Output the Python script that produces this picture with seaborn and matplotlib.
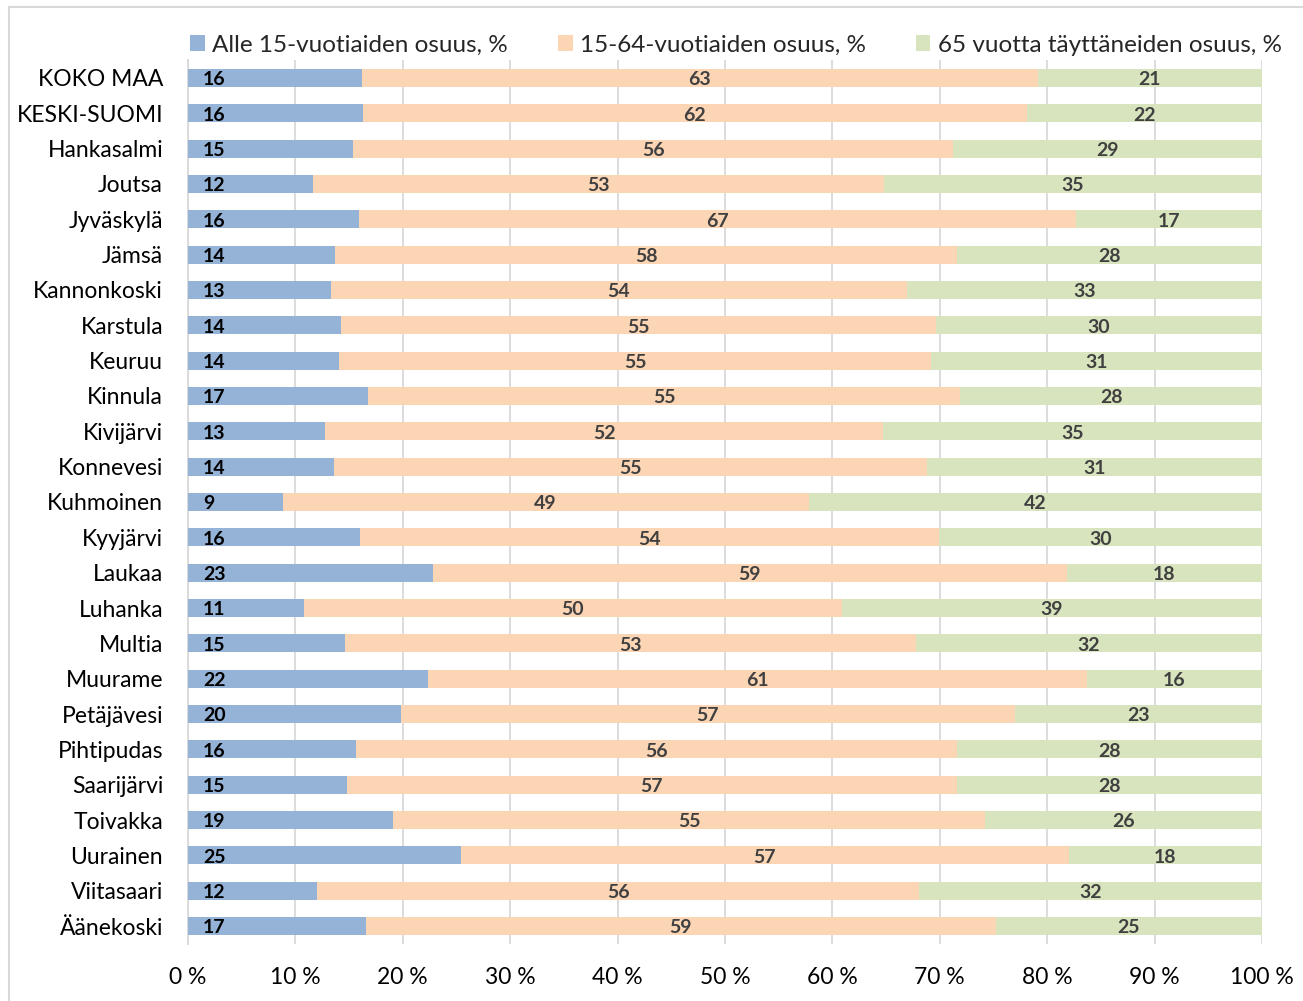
import matplotlib
matplotlib.use("Agg")
import matplotlib.pyplot as plt
from matplotlib.patches import Patch, Rectangle
import seaborn as sns
import pandas as pd
import numpy as np

regions = ["KOKO MAA", "KESKI-SUOMI", "Hankasalmi", "Joutsa", "Jyväskylä", "Jämsä",
           "Kannonkoski", "Karstula", "Keuruu", "Kinnula", "Kivijärvi", "Konnevesi",
           "Kuhmoinen", "Kyyjärvi", "Laukaa", "Luhanka", "Multia", "Muurame",
           "Petäjävesi", "Pihtipudas", "Saarijärvi", "Toivakka", "Uurainen",
           "Viitasaari", "Äänekoski"]
under15 = [16.2, 16.3, 15.4, 11.6, 15.9, 13.7, 13.3, 14.2, 14.1, 16.8, 12.8, 13.6,
           8.8, 16.0, 22.8, 10.8, 14.6, 22.3, 19.8, 15.6, 14.8, 19.1, 25.4, 12.0, 16.6]
age15_64 = [62.9, 61.8, 55.8, 53.2, 66.8, 57.9, 53.6, 55.4, 55.1, 55.1, 51.9, 55.2,
            49.0, 53.9, 59.0, 50.1, 53.2, 61.4, 57.2, 56.0, 56.8, 55.1, 56.6, 56.1, 58.6]
over65 = [20.9, 21.9, 28.8, 35.2, 17.3, 28.4, 33.1, 30.4, 30.8, 28.1, 35.3, 31.2,
          42.2, 30.1, 18.2, 39.1, 32.2, 16.3, 23.0, 28.4, 28.4, 25.8, 18.0, 31.9, 24.8]
series_names = ["Alle 15-vuotiaiden osuus, %", "15-64-vuotiaiden osuus, %",
                "65 vuotta täyttäneiden osuus, %"]
xticks = [0, 10, 20, 30, 40, 50, 60, 70, 80, 90, 100]
xticklabels = ["0 %", "10 %", "20 %", "30 %", "40 %", "50 %", "60 %", "70 %",
               "80 %", "90 %", "100 %"]

colors = ["#95B3D7", "#FCD5B5", "#D7E4BD"]

sns.set_theme(style="white")
plt.rcParams["font.family"] = ["Lato", "DejaVu Sans"]

df = pd.DataFrame({"region": regions, "a": under15, "b": age15_64, "c": over65})
df["cum_a"] = df["a"]
df["cum_b"] = df["a"] + df["b"]
df["cum_c"] = df["a"] + df["b"] + df["c"]

fig = plt.figure(figsize=(13.03, 10.01), dpi=100)
ax = fig.add_axes([188 / 1303, 1 - 943.7 / 1001, (1262 - 188) / 1303, (943.7 - 60.3) / 1001])

bw = 0.51
for col, c in [("cum_c", colors[2]), ("cum_b", colors[1]), ("cum_a", colors[0])]:
    sns.barplot(data=df, x=col, y="region", orient="h", color=c, width=bw,
                saturation=1, ax=ax, zorder=3, linewidth=0)

ax.set_xlim(0, 100)
ax.set_ylim(len(regions) - 0.5, -0.5)
ax.set_xticks(xticks)
ax.set_xticklabels(xticklabels, fontsize=16.5, color="#000000")
ax.tick_params(axis="x", length=0, pad=17)
ax.tick_params(axis="y", length=0, pad=18, labelsize=16.5, labelcolor="#000000")
ax.set_xlabel("")
ax.set_ylabel("")
ax.grid(axis="x", color="#D9D9D9", linewidth=1.3, zorder=0)
ax.grid(axis="y", visible=False)
for s in ["top", "right", "bottom"]:
    ax.spines[s].set_visible(False)
ax.spines["left"].set_color("#D9D9D9")
ax.spines["left"].set_linewidth(1.3)
ax.set_axisbelow(True)

dy = 0.05
for i in range(len(regions)):
    a, b, c = under15[i], age15_64[i], over65[i]
    ax.text(1.4, i + dy, f"{a:.0f}", ha="left", va="center", fontsize=14,
            fontweight="bold", color="#000000", zorder=5)
    ax.text(a + b / 2, i + dy, f"{b:.0f}", ha="center", va="center", fontsize=14,
            fontweight="bold", color="#404040", zorder=5)
    ax.text(a + b + c / 2, i + dy, f"{c:.0f}", ha="center", va="center", fontsize=14,
            fontweight="bold", color="#404040", zorder=5)

handles = [Patch(facecolor=colors[k], edgecolor="none", label=series_names[k]) for k in range(3)]
fig.legend(handles=handles, ncol=3, loc="center", bbox_to_anchor=(736 / 1303, 1 - 45 / 1001),
           frameon=False, fontsize=17.5, handlelength=0.6, handleheight=0.6,
           handletextpad=0.3, columnspacing=2.05, borderaxespad=0)

fig.patches.append(Rectangle((9 / 1303, -0.05), 1.2, (1001 - 7) / 1001 + 0.05,
                             transform=fig.transFigure, fill=False,
                             edgecolor="#D9D9D9", linewidth=1.5))

fig.savefig("out.png", dpi=100, facecolor="white")
